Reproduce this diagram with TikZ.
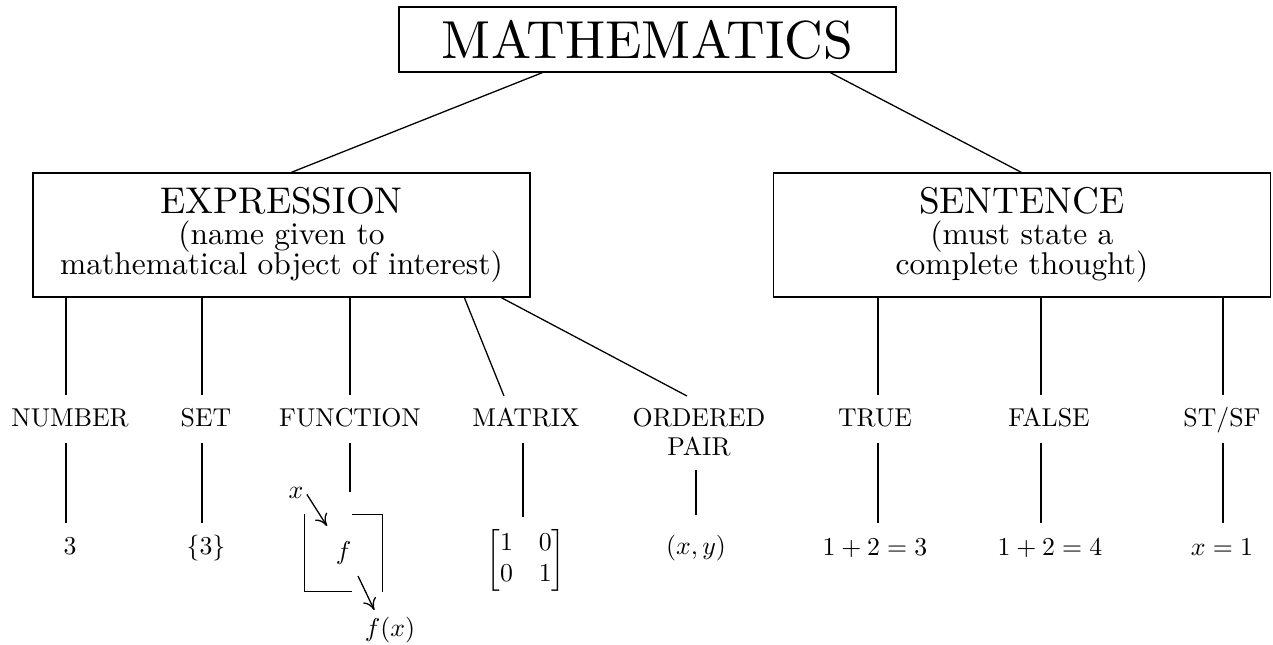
\documentclass[tikz,border=0pt]{standalone}
\usepackage{amsmath}
\usepackage{graphicx}
\usetikzlibrary{calc,arrows.meta}
\newcommand\pxu{0.3876pt}
\newcommand\hd[1]{\scalebox{1.44}{#1}}
\newcommand\sub[1]{\scalebox{1.22}{#1}}
\tikzset{
  box/.style={draw, line width=0.5pt, inner sep=0pt, align=center},
  bigbox/.style={box, minimum width={497*\pxu}, minimum height={124*\pxu},
    font=\fontsize{10}{12}\selectfont},
  lbl/.style={inner sep=0pt, anchor=base, font=\fontsize{10}{11.2}\selectfont, align=center},
  val/.style={inner sep=0pt, anchor=base, font=\fontsize{10}{12}\selectfont},
  conn/.style={line width=0.5pt},
  arr/.style={line width=0.5pt, -{To[length=4.5pt,width=5.5pt]}},
}
\begin{document}
\begin{tikzpicture}[x=0.3876pt,y=-0.3876pt]
\useasboundingbox (0,0) rectangle (1273,645);

% top boxes
\node[box, minimum width={497*\pxu}, minimum height={65*\pxu},
  font=\fontsize{10}{12}\selectfont] (math) at (647.5,39.5) {\scalebox{2.074}{MATHEMATICS}};
\node[bigbox] (expr) at (281.5,235)
  {\hd{EXPRESSION}\\ \sub{(name given to}\\[-1.6pt] \sub{mathematical object of interest)}};
\node[bigbox] (sent) at (1022,235)
  {\hd{SENTENCE}\\ \sub{(must state a}\\[-1.6pt] \sub{complete thought)}};

\draw[conn] ($(math.south west)+(144,0)$) -- ($(expr.north west)+(259,0)$);
\draw[conn] ($(math.south west)+(432,0)$) -- ($(sent.north west)+(248.5,0)$);

% level labels
\node[lbl] (num) at (70,426) {NUMBER};
\node[lbl] (set) at (206,426) {SET};
\node[lbl] (fun) at (350,426) {FUNCTION};
\node[lbl] (mat) at (526,426) {MATRIX};
\node[lbl] (ord) at (699,455) {ORDERED\\PAIR};
\node[lbl] (tru) at (875,426) {TRUE};
\node[lbl] (fal) at (1049,426) {FALSE};
\node[lbl] (stf) at (1222,426) {ST/SF};

% vertical levels
\coordinate (yA) at (0,395);
\coordinate (yB) at (0,443);
\coordinate (yC) at (0,523);
\coordinate (yF) at (0,492);
\coordinate (yM) at (0,517);
\coordinate (yO) at (0,470);
\coordinate (yP) at (0,515);
\coordinate (numX) at (66,0);
\coordinate (setX) at (202,0);
\coordinate (funX) at (350,0);
\coordinate (matX) at (523,0);
\coordinate (ordX) at (696,0);
\coordinate (truX) at (878,0);
\coordinate (falX) at (1041,0);
\coordinate (stfX) at (1223,0);

\draw[conn] (expr.south -| numX) -- (numX |- yA);
\draw[conn] (expr.south -| setX) -- (setX |- yA);
\draw[conn] (expr.south -| funX) -- (funX |- yA);
\draw[conn] ($(expr.south west)+(432,0)$) -- ($(mat.north)+(-22,-11)$);
\draw[conn] ($(expr.south west)+(469,0)$) -- ($(mat.north)+(161,-11)$);
\draw[conn] (sent.south -| truX) -- (truX |- yA);
\draw[conn] (sent.south -| falX) -- (falX |- yA);
\draw[conn] (sent.south -| stfX) -- (stfX |- yA);

% values
\node[val] (v3) at (70,554) {$3$};
\node[val] (vset) at (206,554) {$\{3\}$};
\node[inner sep=0pt, font=\fontsize{10}{12}\selectfont] (vmat) at (526,560) {$\begin{bmatrix}1&0\\0&1\end{bmatrix}$};
\node[val] (vord) at (696,554) {$(x,y)$};
\node[val] (vtru) at (875,555) {$1+2=3$};
\node[val] (vfal) at (1050,555) {$1+2=4$};
\node[val] (vstf) at (1222,555) {$x=1$};

\draw[conn] (numX |- yB) -- (numX |- yC);
\draw[conn] (setX |- yB) -- (setX |- yC);
\draw[conn] (funX |- yB) -- (funX |- yF);
\draw[conn] (matX |- yB) -- (matX |- yM);
\draw[conn] (ordX |- yO) -- (ordX |- yP);
\draw[conn] (truX |- yB) -- (truX |- yC);
\draw[conn] (falX |- yB) -- (falX |- yC);
\draw[conn] (stfX |- yB) -- (stfX |- yC);

% function machine
\node[inner sep=0pt, minimum width={77*\pxu}, minimum height={76*\pxu}, font=\fontsize{10}{12}\selectfont] (fbox) at (343.5,553) {$f$};
\draw[conn] (fbox.north west) -- (fbox.south west) -- ($(fbox.south)+(8.5,0)$);
\draw[conn] ($(fbox.north)+(8.5,0)$) -- (fbox.north east) -- (fbox.south east);
\node[val] (xin) at (296,498) {$x$};
\node[val] (fout) at (390,636) {$f(x)$};
\coordinate (ain) at (327,526);
\coordinate (aout) at (358,576);
\draw[arr] ($(xin.east)+(3,2)$) -- (ain);
\draw[arr] (aout) -- ($(fout.north west)+(10,-6)$);
\end{tikzpicture}
\end{document}
